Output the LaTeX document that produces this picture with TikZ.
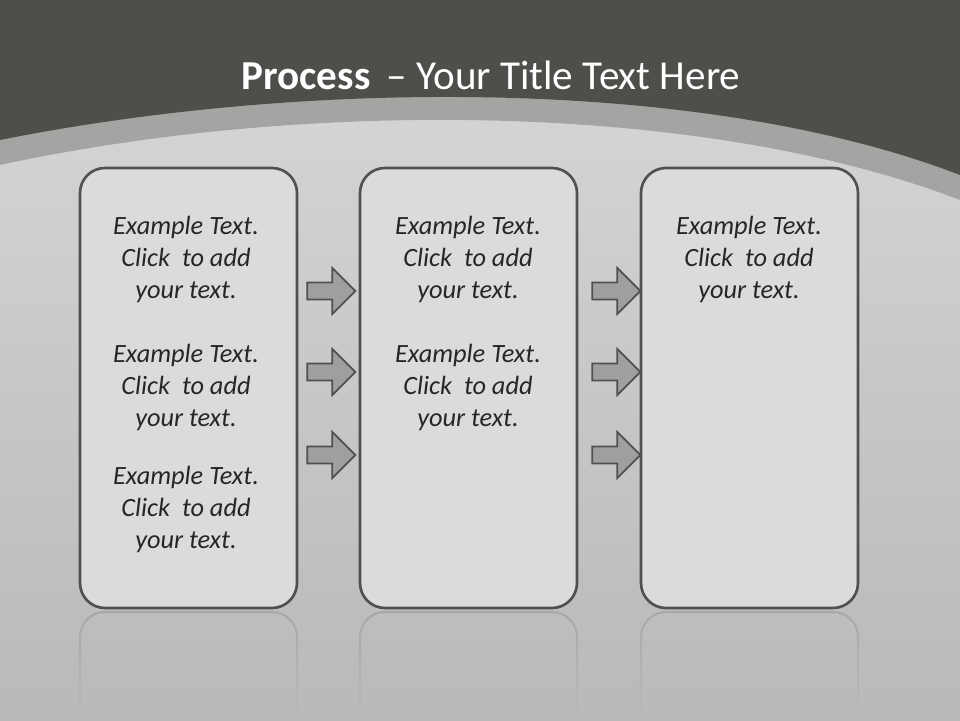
\documentclass[tikz,border=0pt]{standalone}
\usepackage{fontspec}
\setmainfont{Carlito}
\usetikzlibrary{shapes.arrows,fadings}
\definecolor{dark}{HTML}{4E4E4B}
\definecolor{band}{HTML}{A4A4A2}
\definecolor{boxfill}{HTML}{DCDBDA}
\definecolor{edge}{HTML}{505050}
\tikzset{
 pbox/.style={draw=edge,line width=1.5pt,fill=boxfill,rounded corners=0.5cm},
 parrow/.style={single arrow,draw=edge,line width=1pt,fill=gray!75,minimum height=0.96cm,minimum width=0.92cm,single arrow head extend=0.2cm,inner sep=0.1cm},
 ptxt/.style={font=\itshape\fontsize{15}{18.2}\selectfont,align=center,text=black!85}
}
\begin{document}
\begin{tikzpicture}
\useasboundingbox (0,0) rectangle (19.2,14.4);
\shade[top color=gray!30,bottom color=gray!55] (0,0) rectangle (19.2,14.4);
\fill[band] (0,14.4) -- (0,11.1) .. controls (6,12.4) and (14,12.4) .. (19.2,10.4) -- (19.2,14.4) -- cycle;
\fill[dark] (0,14.4) -- (0,11.6) .. controls (6,12.8) and (14,12.9) .. (19.2,10.9) -- (19.2,14.4) -- cycle;
\node[text=white,font=\fontsize{23.4}{28}\selectfont] (title) at (9.82,12.9) {\textbf{Process} \,– Your Title Text Here};
% reflections
\foreach \x/\n in {1.6/ra,7.2/rb,12.82/rc}{
 \draw[edge!50,line width=1.2pt,rounded corners=0.5cm,path fading=south] (\x,0) -- (\x,2.16) -- (\x+4.34,2.16) -- (\x+4.34,0);
}
% boxes
\node[pbox,minimum width=4.34cm,minimum height=8.8cm] (b1) at (3.77,6.64) {};
\node[pbox,minimum width=4.34cm,minimum height=8.8cm] (b2) at (9.37,6.64) {};
\node[pbox,minimum width=4.34cm,minimum height=8.8cm] (b3) at (14.99,6.64) {};
\node[ptxt] (t1) at (3.72,9.22) {Example Text.\\Click \ to add\\your text.};
\node[ptxt] (t2) at (3.72,6.66) {Example Text.\\Click \ to add\\your text.};
\node[ptxt] (t3) at (3.72,4.22) {Example Text.\\Click \ to add\\your text.};
\node[ptxt] (t4) at (9.36,9.22) {Example Text.\\Click \ to add\\your text.};
\node[ptxt] (t5) at (9.36,6.66) {Example Text.\\Click \ to add\\your text.};
\node[ptxt] (t6) at (14.98,9.22) {Example Text.\\Click \ to add\\your text.};
\foreach \y/\n in {8.58/a,6.96/b,5.30/c}{
 \node[parrow] (l\n) at (6.54,\y) {};
 \node[parrow] (r\n) at (12.24,\y) {};
}
\end{tikzpicture}
\end{document}
